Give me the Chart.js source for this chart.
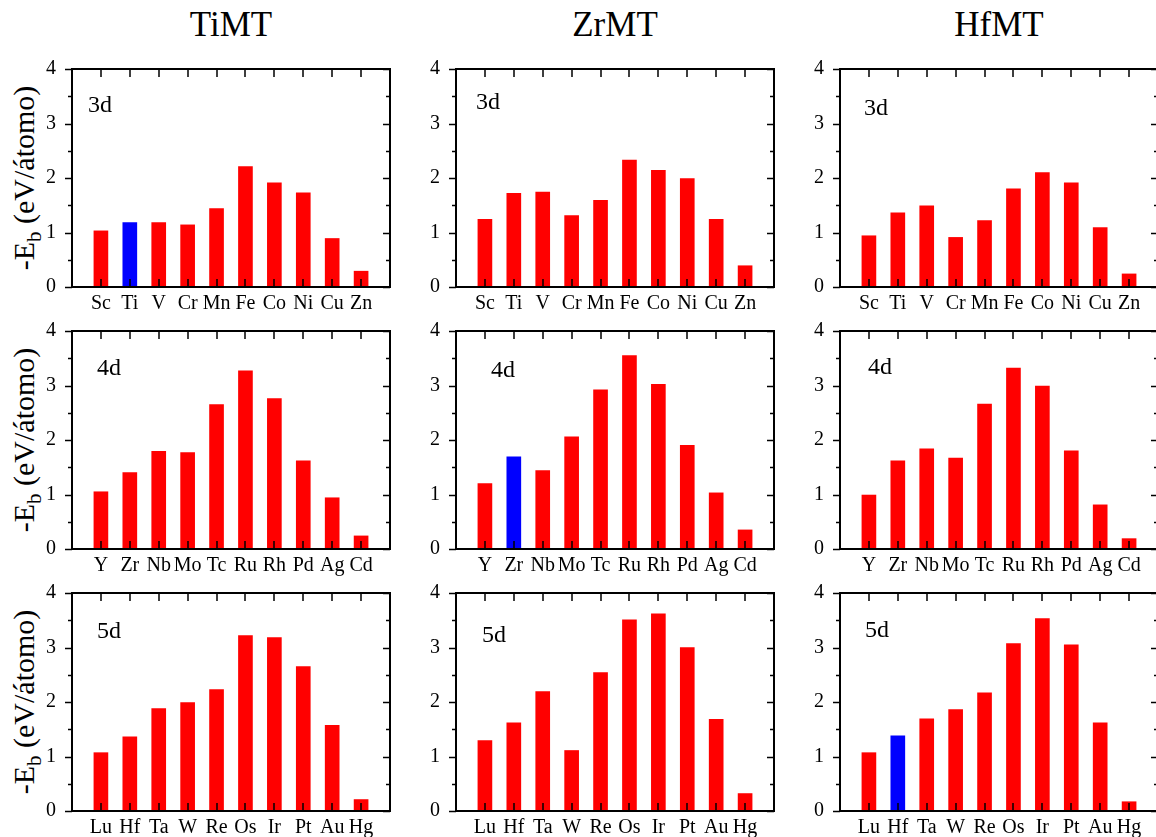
<!DOCTYPE html>
<html>
<head>
<meta charset="utf-8">
<script src="https://cdn.jsdelivr.net/npm/chart.js@4"></script>
<style>
  body { margin: 0; width: 1156px; height: 837px; overflow: hidden; background: #fff; position: relative; font-family: 'Liberation Serif', serif; color: #000; }
  canvas { position: absolute; }
  .host { position: absolute; font-size: 35px; line-height: 35px; transform: translateX(-50%); white-space: nowrap; }
  .ylab { position: absolute; font-size: 30px; line-height: 30px; white-space: nowrap; transform: translate(-50%, -50%) rotate(-90deg); }
  .ylab sub { font-size: 70%; line-height: 0; }
</style>
</head>
<body>
<script>
const hosts = ['TiMT', 'ZrMT', 'HfMT'];
const series = ['3d', '4d', '5d'];
const elements3d = ['Sc', 'Ti', 'V', 'Cr', 'Mn', 'Fe', 'Co', 'Ni', 'Cu', 'Zn'];
const elements4d = ['Y', 'Zr', 'Nb', 'Mo', 'Tc', 'Ru', 'Rh', 'Pd', 'Ag', 'Cd'];
const elements5d = ['Lu', 'Hf', 'Ta', 'W', 'Re', 'Os', 'Ir', 'Pt', 'Au', 'Hg'];
const yTicks = [0, 1, 2, 3, 4];

// -E_b (eV/atomo)
const timt3d = [1.03, 1.18, 1.18, 1.14, 1.44, 2.21, 1.91, 1.73, 0.89, 0.29];
const zrmt3d = [1.24, 1.72, 1.74, 1.31, 1.59, 2.33, 2.14, 1.99, 1.24, 0.39];
const hfmt3d = [0.94, 1.36, 1.49, 0.91, 1.22, 1.80, 2.10, 1.91, 1.09, 0.24];
const timt4d = [1.05, 1.40, 1.79, 1.77, 2.65, 3.27, 2.76, 1.62, 0.94, 0.24];
const zrmt4d = [1.20, 1.69, 1.44, 2.06, 2.92, 3.55, 3.02, 1.90, 1.03, 0.35];
const hfmt4d = [0.99, 1.62, 1.84, 1.67, 2.66, 3.32, 2.99, 1.80, 0.81, 0.19];
const timt5d = [1.07, 1.36, 1.88, 1.99, 2.23, 3.22, 3.18, 2.65, 1.57, 0.21];
const zrmt5d = [1.29, 1.62, 2.19, 1.11, 2.54, 3.51, 3.62, 3.00, 1.68, 0.32];
const hfmt5d = [1.07, 1.38, 1.69, 1.86, 2.17, 3.07, 3.53, 3.05, 1.62, 0.17];

const labelsByRow = [elements3d, elements4d, elements5d];
const valuesByPanel = [
    [timt3d, zrmt3d, hfmt3d],
    [timt4d, zrmt4d, hfmt4d],
    [timt5d, zrmt5d, hfmt5d]
];

// layout (px)
const colLeft = [72, 456, 840];
const rowTop = [69, 331, 593];
const plotW = 318, plotH = 218;
const padL = 45, padT = 12, padR = 10, padB = 34;
const tagPos = [
    [[16, 43], [20, 40], [24, 46]],
    [[25, 44], [35, 46], [28, 43]],
    [[25, 45], [26, 49], [25, 44]]
];

const framePlugin = {
    id: 'frame',
    afterDraw(chart, args, opts) {
        const { ctx, chartArea: a } = chart;
        const x = chart.scales.x, y = chart.scales.y;
        ctx.save();
        ctx.strokeStyle = '#000';
        ctx.lineWidth = 2;
        ctx.strokeRect(a.left, a.top, a.right - a.left, a.bottom - a.top);
        ctx.beginPath();
        ctx.lineWidth = 1.5;
        yTicks.forEach((v, i) => {
            const marks = [[v, 7]];
            if (i < yTicks.length - 1) marks.push([(v + yTicks[i + 1]) / 2, 4]);
            marks.forEach(([val, len]) => {
                const py = Math.round(y.getPixelForValue(val)) + 0.5;
                ctx.moveTo(a.left - len, py); ctx.lineTo(a.left, py);
                ctx.moveTo(a.right - len, py); ctx.lineTo(a.right, py);
            });
        });
        x.ticks.forEach(t => {
            const px = Math.round(x.getPixelForValue(t.value));
            ctx.moveTo(px, a.bottom); ctx.lineTo(px, a.bottom - 8);
            ctx.moveTo(px, a.top); ctx.lineTo(px, a.top + 8);
        });
        ctx.stroke();
        ctx.fillStyle = '#000';
        ctx.font = '24px "Liberation Serif"';
        ctx.textBaseline = 'alphabetic';
        ctx.fillText(opts.text, a.left + opts.dx, a.top + opts.dy);
        ctx.restore();
    }
};

const tickFont = { family: "'Liberation Serif', serif", size: 20 };

function noPad(sc) {
    sc.paddingTop = 0; sc.paddingBottom = 0; sc.paddingLeft = 0; sc.paddingRight = 0;
}

function draw() {
    hosts.forEach((host, c) => {
        const t = document.createElement('div');
        t.className = 'host';
        t.textContent = host;
        t.style.left = (colLeft[c] + plotW / 2) + 'px';
        t.style.top = '7px';
        document.body.appendChild(t);
    });

    series.forEach((s, r) => {
        const yl = document.createElement('div');
        yl.className = 'ylab';
        yl.innerHTML = '-E<sub>b</sub> (eV/átomo)';
        yl.style.left = '24px';
        yl.style.top = (rowTop[r] + plotH / 2) + 'px';
        document.body.appendChild(yl);

        hosts.forEach((host, c) => {
            const labels = labelsByRow[r];
            const values = valuesByPanel[r][c];
            const hostEl = host.replace('MT', '');

            const canvas = document.createElement('canvas');
            canvas.width = padL + plotW + padR;
            canvas.height = padT + plotH + padB;
            canvas.style.left = (colLeft[c] - padL) + 'px';
            canvas.style.top = (rowTop[r] - padT) + 'px';
            document.body.appendChild(canvas);

            new Chart(canvas, {
                type: 'bar',
                data: {
                    datasets: [{
                        data: values.map((v, i) => ({ x: i + 1, y: v })),
                        backgroundColor: labels.map(l => l === hostEl ? '#0000ff' : '#ff0000'),
                        barThickness: 14
                    }]
                },
                options: {
                    responsive: false,
                    animation: false,
                    layout: { padding: { top: padT, right: padR, left: 0, bottom: 0 } },
                    plugins: {
                        legend: { display: false },
                        tooltip: { enabled: false },
                        frame: { text: s, dx: tagPos[r][c][0], dy: tagPos[r][c][1] }
                    },
                    scales: {
                        x: {
                            type: 'linear', min: 0, max: labels.length + 1, offset: false,
                            grid: { display: false }, border: { display: false },
                            afterFit: sc => { sc.height = padB; noPad(sc); },
                            afterBuildTicks: sc => { sc.ticks = labels.map((l, i) => ({ value: i + 1 })); },
                            ticks: {
                                autoSkip: false, maxRotation: 0, padding: -3, color: '#000', font: tickFont,
                                callback: v => labels[v - 1]
                            }
                        },
                        y: {
                            min: 0, max: 4,
                            grid: { display: false }, border: { display: false },
                            afterFit: sc => { sc.width = padL; noPad(sc); },
                            afterBuildTicks: sc => { sc.ticks = yTicks.map(v => ({ value: v })); },
                            ticks: { padding: 8, color: '#000', font: tickFont }
                        }
                    }
                },
                plugins: [framePlugin]
            });
        });
    });
}

document.fonts.load('20px "Liberation Serif"').then(draw, draw);
</script>
</body>
</html>
